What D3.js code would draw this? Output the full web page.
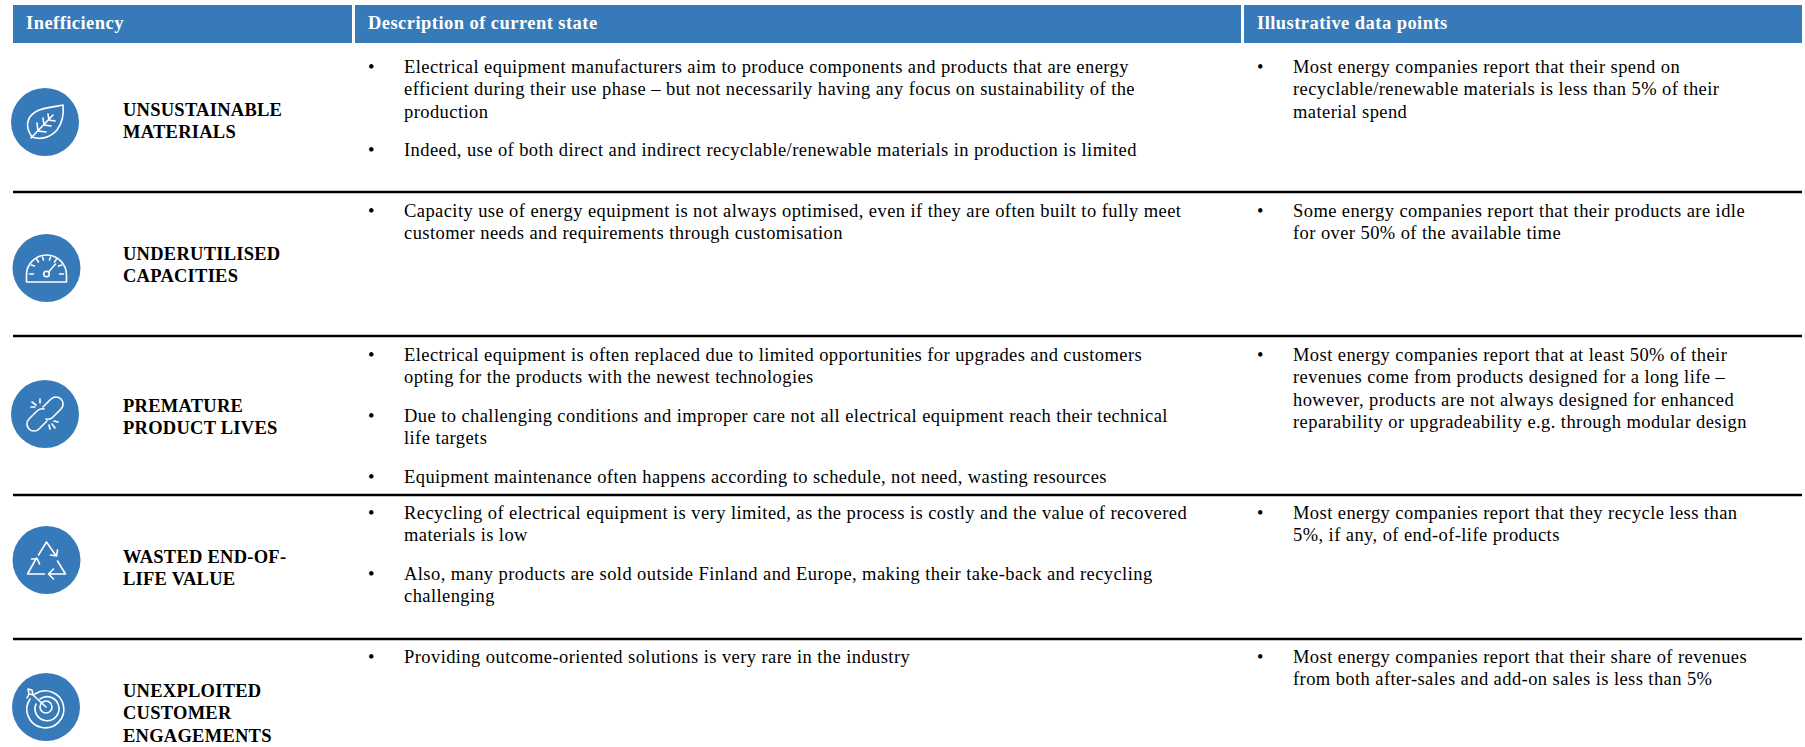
<!DOCTYPE html>
<html>
<head>
<meta charset="utf-8">
<script src="https://cdn.jsdelivr.net/npm/d3@7"></script>
<style>
  html, body { margin: 0; background: #fff; }
  text { font-family: "Liberation Serif", serif; }
</style>
</head>
<body>
<svg width="1805" height="747"></svg>
<script>
const headers = ["Inefficiency", "Description of current state", "Illustrative data points"];

const names = [
  ["UNSUSTAINABLE", "MATERIALS"],
  ["UNDERUTILISED", "CAPACITIES"],
  ["PREMATURE", "PRODUCT LIVES"],
  ["WASTED END-OF-", "LIFE VALUE"],
  ["UNEXPLOITED", "CUSTOMER", "ENGAGEMENTS"]
];

const descriptions = [
  [["Electrical equipment manufacturers aim to produce components and products that are energy",
    "efficient during their use phase – but not necessarily having any focus on sustainability of the",
    "production"],
   ["Indeed, use of both direct and indirect recyclable/renewable materials in production is limited"]],
  [["Capacity use of energy equipment is not always optimised, even if they are often built to fully meet",
    "customer needs and requirements through customisation"]],
  [["Electrical equipment is often replaced due to limited opportunities for upgrades and customers",
    "opting for the products with the newest technologies"],
   ["Due to challenging conditions and improper care not all electrical equipment reach their technical",
    "life targets"],
   ["Equipment maintenance often happens according to schedule, not need, wasting resources"]],
  [["Recycling of electrical equipment is very limited, as the process is costly and the value of recovered",
    "materials is low"],
   ["Also, many products are sold outside Finland and Europe, making their take-back and recycling",
    "challenging"]],
  [["Providing outcome-oriented solutions is very rare in the industry"]]
];

const dataPoints = [
  [["Most energy companies report that their spend on",
    "recyclable/renewable materials is less than 5% of their",
    "material spend"]],
  [["Some energy companies report that their products are idle",
    "for over 50% of the available time"]],
  [["Most energy companies report that at least 50% of their",
    "revenues come from products designed for a long life –",
    "however, products are not always designed for enhanced",
    "reparability or upgradeability e.g. through modular design"]],
  [["Most energy companies report that they recycle less than",
    "5%, if any, of end-of-life products"]],
  [["Most energy companies report that their share of revenues",
    "from both after-sales and add-on sales is less than 5%"]]
];

// layout
const blue = "#377ab9";
const headerCols = [[13, 352], [355, 1241], [1244, 1802]];
const ruleYs = [192, 336, 495, 639];
const firstBase = [73, 217, 361, 519, 663];
const labelBase = [116, 260, 412, 563, 697];
const iconPos = [[45, 122], [46.5, 268], [45, 414], [46.5, 560], [46, 707]];
const lineH = 22.4, paraGap = 16;

const svg = d3.select("svg");

// header bars
const head = svg.append("g");
headers.forEach((h, i) => {
  const [x0, x1] = headerCols[i];
  head.append("rect").attr("x", x0).attr("y", 5).attr("width", x1 - x0).attr("height", 38).attr("fill", blue);
  head.append("text")
    .attr("x", x0 + 13).attr("y", 29)
    .attr("font-size", 18.5).attr("font-weight", "bold").attr("fill", "#fff")
    .attr("letter-spacing", 0.45)
    .text(h);
});

// rules between the rows
svg.selectAll("line.rule").data(ruleYs).enter().append("line")
  .attr("class", "rule")
  .attr("x1", 13).attr("x2", 1802)
  .attr("y1", d => d).attr("y2", d => d)
  .attr("stroke", "#000").attr("stroke-width", 2.6);

// row labels
names.forEach((lines, i) => {
  lines.forEach((t, j) => {
    svg.append("text")
      .attr("x", 123).attr("y", labelBase[i] + j * 22.3)
      .attr("font-size", 18.5).attr("font-weight", "bold").attr("fill", "#000")
      .attr("letter-spacing", 0.25)
      .text(t);
  });
});

function bullets(paragraphs, base, bulletX, textX) {
  let y = base;
  paragraphs.forEach(par => {
    svg.append("text").attr("x", bulletX).attr("y", y)
      .attr("font-size", 18.5).attr("fill", "#000").text("•");
    par.forEach(t => {
      svg.append("text").attr("x", textX).attr("y", y)
        .attr("font-size", 18.5).attr("fill", "#000")
        .attr("letter-spacing", 0.42)
        .text(t);
      y += lineH;
    });
    y += paraGap;
  });
}

descriptions.forEach((d, i) => bullets(d, firstBase[i], 368, 404));
dataPoints.forEach((d, i) => bullets(d, firstBase[i], 1257, 1293));

// icons
const iconDraw = [
  g => { // leaf
    g.append("path").attr("d", "M-13,15 C-20,5 -19,-5 -8,-11 C0,-15 10,-15 18,-17 C19,-8 18,0 12,8 C5,16 -5,18 -13,15 Z");
    g.append("path").attr("d", "M-14,16 L8,-7 M-7,9 L-8,1 M-7,9 L1,10 M-1,3 L-2,-4 M-1,3 L6,4 M4,-2 L3,-8 M4,-2 L10,-1");
  },
  g => { // gauge
    g.append("path").attr("d", "M-20,14 L-20,7 A20,20 0 0 1 20,7 L20,14 Z");
    g.append("circle").attr("cx", 0).attr("cy", 6).attr("r", 2.8);
    g.append("path").attr("d", "M2,4 L9,-4");
    g.append("path").attr("d", "M-17,6 L-13,6 M13,6 L17,6 M-15,-3 L-12,-2 M12,-2 L15,-3 M-10,-9 L-8,-6 M8,-6 L10,-9 M-4,-11 L-3,-8 M3,-8 L4,-11 ");
  },
  g => { // broken chain
    g.append("path").attr("d", "M-2,-7 L6,-15 A7,7 0 0 1 16,-5 L8,3 A7,7 0 0 1 1,5");
    g.append("path").attr("d", "M2,7 L-6,15 A7,7 0 0 1 -16,5 L-8,-3 A7,7 0 0 1 -1,-5");
    g.append("path").attr("d", "M-13,-12 L-9,-9 M-14,-7 L-10,-7 M-5,-15 L-5,-11 M13,8 L9,7 M10,14 L7,10 M5,15 L4,11");
  },
  g => { // recycle
    g.append("path").attr("d", "M-8,-5 L0,-18 L9,-5 M11,-10 L10,-4 L4,-5");
    g.append("path").attr("d", "M-2,14 L-19,14 L-10,-2 M-15,-1 L-9,-1 L-7,4");
    g.append("path").attr("d", "M2,14 L19,14 L11,1 M7,9 L2,14 L7,19");
  },
  g => { // target
    g.append("path").attr("d", "M-11,-13 A18.5,18.5 0 1 1 -16,-8");
    g.append("path").attr("d", "M-6,-8 A12,12 0 1 1 -10,-3");
    g.append("circle").attr("cx", 0).attr("cy", 0).attr("r", 6);
    g.append("path").attr("d", "M0,0 L-13,-12 M-13,-12 L-14,-17 L-18,-18 L-17,-13 L-12,-12 M-17,-13 L-19,-9 ");
  }
];

iconPos.forEach(([cx, cy], i) => {
  const g = svg.append("g").attr("transform", `translate(${cx},${cy})`);
  g.append("circle").attr("r", 34).attr("fill", blue);
  const inner = g.append("g").attr("fill", "none").attr("stroke", "#fff").attr("stroke-width", 1.6)
    .attr("stroke-linejoin", "round").attr("stroke-linecap", "round");
  iconDraw[i](inner);
});
</script>
</body>
</html>
